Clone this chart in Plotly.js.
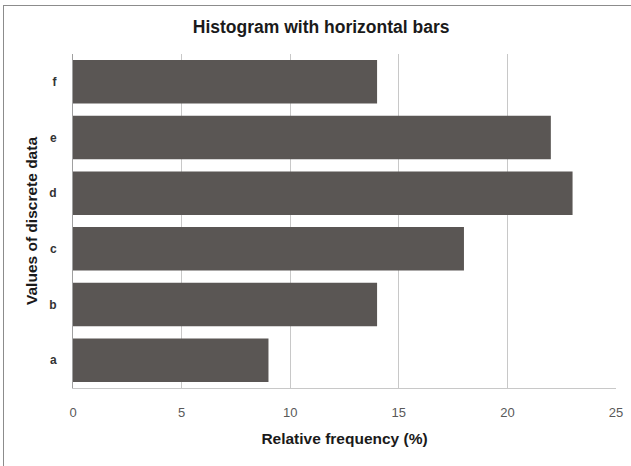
<!DOCTYPE html>
<html>
<head>
<meta charset="utf-8">
<script src="https://cdn.plot.ly/plotly-3.0.1.min.js"></script>
<style>
html,body{margin:0;padding:0;background:#fff;}
#wrap{position:relative;width:631px;height:466px;}
#chart{position:absolute;left:0;top:0;width:631px;height:466px;}
#frame{position:absolute;left:3px;top:5px;width:640px;height:480px;border:1px solid #8c8c8c;pointer-events:none;}
</style>
</head>
<body>
<div id="wrap"><div id="chart"></div><div id="frame"></div></div>
<script>
var categories = ['a', 'b', 'c', 'd', 'e', 'f'];
var relFreq = [9, 14, 18, 23, 22, 14];
var xTicks = [0, 5, 10, 15, 20, 25];

var trace = {
  type: 'bar',
  orientation: 'h',
  y: categories,
  x: relFreq,
  marker: {color: '#5a5654', line: {width: 0}},
  hoverinfo: 'x+y'
};

var layout = {
  width: 631, height: 466,
  margin: {l: 73, r: 15, t: 54, b: 78},
  paper_bgcolor: 'rgba(0,0,0,0)',
  plot_bgcolor: '#fff',
  bargap: 0.22,
  showlegend: false,
  font: {family: 'Liberation Sans, Arial, sans-serif'},
  title: {
    text: '<b>Histogram with horizontal bars</b>',
    font: {size: 17.5, color: '#1a1a1a'},
    x: 0.509, xanchor: 'center', y: 0.942, yanchor: 'middle'
  },
  xaxis: {
    range: [0, 25],
    tickvals: xTicks,
    ticktext: xTicks.map(String),
    showgrid: true, gridcolor: '#c8c8c8', gridwidth: 1,
    zeroline: false,
    showline: true, linecolor: '#c8c8c8', linewidth: 1,
    ticks: '', ticklabelstandoff: 12,
    tickfont: {size: 13, color: '#595959'},
    title: {text: '<b>Relative frequency (%)</b>', font: {size: 15.5, color: '#1a1a1a'}, standoff: 14}
  },
  yaxis: {
    categoryorder: 'array', categoryarray: categories,
    showgrid: false, zeroline: false,
    showline: true, linecolor: '#a0a0a0', linewidth: 1,
    ticks: '', ticklabelstandoff: 13,
    tickfont: {size: 12, color: '#333333', weight: 'bold'},
    title: {text: '<b>Values of discrete data</b>', font: {size: 15.5, color: '#1a1a1a'}, standoff: 7}
  }
};

Plotly.newPlot('chart', [trace], layout, {displayModeBar: false, staticPlot: true});
</script>
</body>
</html>
